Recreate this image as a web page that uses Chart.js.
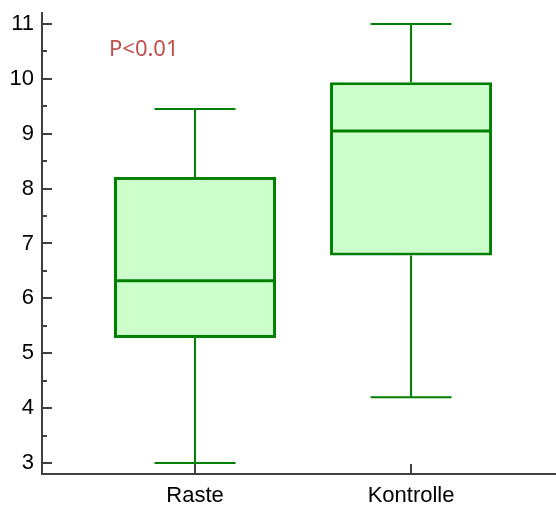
<!DOCTYPE html>
<html>
<head>
<meta charset="utf-8">
<script src="https://cdn.jsdelivr.net/npm/chart.js@4/dist/chart.umd.min.js"></script>
<style>
    html, body { margin: 0; padding: 0; background: #fff; }
    #wrap { width: 556px; height: 508px; position: relative; }
</style>
</head>
<body>
<div id="wrap"><canvas id="boxChart"></canvas></div>
<script>
// Gruppen und Kennwerte der Boxplots
const groups = ['Raste', 'Kontrolle'];
const minVals = [3.0, 4.2];
const q1Vals = [5.28, 6.78];
const medianVals = [6.32, 9.05];
const q3Vals = [8.21, 9.94];
const maxVals = [9.45, 11.0];

const yTickLabels = [3, 4, 5, 6, 7, 8, 9, 10, 11];
const pText = 'P<0.01';

const GREEN = '#008000';
const FILL = '#ccffcc';
const AXIS = '#404040';

// Boxen als schwebende Balken [Q1, Q3]
const boxData = groups.map((g, i) => ({ x: i + 1, y: [q1Vals[i], q3Vals[i]] }));

// Whisker, Median, Achsenstriche und p-Wert
const boxExtras = {
    id: 'boxExtras',
    afterDatasetsDraw(chart) {
        const { ctx, scales: { x, y } } = chart;
        ctx.save();
        ctx.strokeStyle = GREEN;
        ctx.lineCap = 'butt';
        groups.forEach((g, i) => {
            const cx = x.getPixelForValue(i + 1);
            const boxHalf = (x.getPixelForValue(i + 1.375) - x.getPixelForValue(i + 0.625)) / 2;
            const capHalf = boxHalf / 2;
            ctx.lineWidth = 2;
            ctx.beginPath();
            ctx.moveTo(cx, y.getPixelForValue(q3Vals[i]));
            ctx.lineTo(cx, y.getPixelForValue(maxVals[i]));
            ctx.moveTo(cx, y.getPixelForValue(q1Vals[i]));
            ctx.lineTo(cx, y.getPixelForValue(minVals[i]));
            // Querstriche
            ctx.moveTo(cx - capHalf, y.getPixelForValue(maxVals[i]));
            ctx.lineTo(cx + capHalf, y.getPixelForValue(maxVals[i]));
            ctx.moveTo(cx - capHalf, y.getPixelForValue(minVals[i]));
            ctx.lineTo(cx + capHalf, y.getPixelForValue(minVals[i]));
            ctx.stroke();
            // Median
            ctx.lineWidth = 3;
            ctx.beginPath();
            ctx.moveTo(cx - boxHalf, y.getPixelForValue(medianVals[i]));
            ctx.lineTo(cx + boxHalf, y.getPixelForValue(medianVals[i]));
            ctx.stroke();
        });

        // Achsenstriche nach innen
        ctx.strokeStyle = AXIS;
        ctx.lineWidth = 2;
        ctx.beginPath();
        y.ticks.forEach(t => {
            const py = Math.round(y.getPixelForValue(t.value));
            const len = Number.isInteger(t.value) ? 10 : 5;
            ctx.moveTo(y.right, py);
            ctx.lineTo(y.right + len, py);
        });
        x.ticks.forEach(t => {
            const px = Math.round(x.getPixelForValue(t.value));
            ctx.moveTo(px, x.top);
            ctx.lineTo(px, x.top - 10);
        });
        ctx.stroke();

        // p-Wert
        ctx.fillStyle = '#c0504d';
        ctx.font = '22px "Noto Sans", "Open Sans", sans-serif';
        ctx.textAlign = 'left';
        ctx.textBaseline = 'middle';
        ctx.fillText(pText, 109, 50);
        ctx.restore();
    }
};

new Chart(document.getElementById('boxChart'), {
    type: 'bar',
    data: {
        datasets: [{
            data: boxData,
            backgroundColor: FILL,
            borderColor: GREEN,
            borderWidth: 3,
            borderSkipped: false,
            categoryPercentage: 0.75,
            barPercentage: 1.0
        }]
    },
    options: {
        responsive: true,
        maintainAspectRatio: false,
        animation: false,
        events: [],
        layout: { padding: { top: 13, right: 0, left: 0, bottom: 0 } },
        plugins: {
            legend: { display: false },
            tooltip: { enabled: false }
        },
        scales: {
            x: {
                type: 'linear',
                offset: false,
                min: 0.2917,
                max: 2.671,
                afterBuildTicks: s => { s.ticks = groups.map((g, i) => ({ value: i + 1 })); },
                afterFit: s => { s.height = 34; s.paddingLeft = 0; s.paddingRight = 0; },
                grid: { display: false, drawTicks: false },
                border: { display: true, color: AXIS, width: 2 },
                ticks: {
                    autoSkip: false,
                    maxRotation: 0,
                    padding: 9,
                    color: '#000',
                    font: { family: '"Liberation Sans", Arial, sans-serif', size: 22 },
                    callback: v => groups[v - 1] ?? ''
                }
            },
            y: {
                min: 2.8,
                max: 11.2,
                afterBuildTicks: s => {
                    const t = [];
                    yTickLabels.forEach((v, i) => {
                        t.push({ value: v });
                        if (i < yTickLabels.length - 1) t.push({ value: v + 0.5 });
                    });
                    s.ticks = t;
                },
                afterFit: s => { s.width = 42; s.paddingTop = 0; s.paddingBottom = 0; },
                grid: { display: false, drawTicks: false },
                border: { display: true, color: AXIS, width: 2 },
                ticks: {
                    autoSkip: false,
                    padding: 8,
                    color: '#000',
                    font: { family: '"Liberation Sans", Arial, sans-serif', size: 22 },
                    callback: v => Number.isInteger(v) ? String(v) : ''
                }
            }
        }
    },
    plugins: [boxExtras]
});
</script>
</body>
</html>
